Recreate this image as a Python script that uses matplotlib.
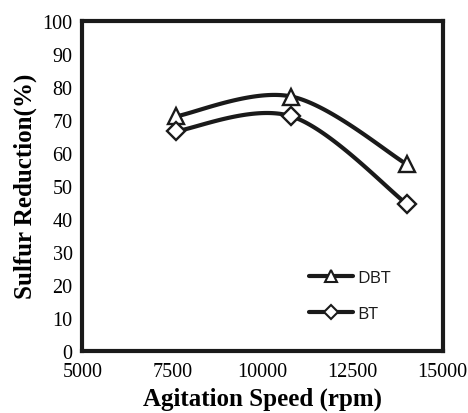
import numpy as np
import matplotlib.pyplot as plt

speed = [7600, 10800, 14000]
dbt = [71.0, 77.0, 56.5]
bt = [66.5, 71.0, 44.5]

x_ticks = [5000, 7500, 10000, 12500, 15000]
y_ticks = list(range(0, 101, 10))


def smooth(xs, ys, w=361.0, h=330.0, n=60):
    """Excel-like smoothed line (Catmull-Rom bezier) computed in screen-ish units."""
    px = (np.asarray(xs, float) - 5000) / 10000 * w
    py = np.asarray(ys, float) / 100 * h
    pts = np.column_stack([px, py])
    out = []
    for i in range(len(pts) - 1):
        p0 = pts[i - 1] if i > 0 else pts[i]
        p1, p2 = pts[i], pts[i + 1]
        p3 = pts[i + 2] if i + 2 < len(pts) else pts[i + 1]
        c1 = p1 + (p2 - p0) / 6
        c2 = p2 - (p3 - p1) / 6
        t = np.linspace(0, 1, n)[:, None]
        seg = (1 - t) ** 3 * p1 + 3 * (1 - t) ** 2 * t * c1 + 3 * (1 - t) * t ** 2 * c2 + t ** 3 * p2
        out.append(seg if i == 0 else seg[1:])
    out = np.vstack(out)
    return out[:, 0] / w * 10000 + 5000, out[:, 1] / h * 100


fig = plt.figure(figsize=(4.68, 4.14), dpi=100)
ax = fig.add_axes([0.176, 0.150, 0.770, 0.798])

for ys, mk, ms, lab in [(dbt, '^', 12, 'DBT'), (bt, 'D', 9, 'BT')]:
    sx, sy = smooth(speed, ys)
    ax.plot(sx, sy, color='#1a1a1a', lw=3.0, solid_capstyle='round', zorder=2)
    ax.plot(speed, ys, linestyle='none', marker=mk, ms=ms, mfc='white',
            mec='#1a1a1a', mew=1.7, zorder=3)
    ax.plot([], [], color='#1a1a1a', lw=3.0, marker=mk, ms=ms * 0.75, mfc='white',
            mec='#1a1a1a', mew=1.5, label=lab, solid_capstyle='round')

ax.set_xlim(5000, 15000)
ax.set_ylim(0, 100)
ax.set_xticks(x_ticks)
ax.set_yticks(y_ticks)
ax.tick_params(axis='y', length=0, pad=7)
ax.tick_params(axis='x', length=0, pad=8)
for lbl in ax.get_xticklabels() + ax.get_yticklabels():
    lbl.set_fontfamily('Liberation Serif')
    lbl.set_fontsize(14.5)
for s in ax.spines.values():
    s.set_linewidth(3.0)
    s.set_color('#1a1a1a')

ax.set_xlabel('Agitation Speed (rpm)', fontfamily='Liberation Serif',
              fontweight='bold', fontsize=18, labelpad=4)
ax.set_ylabel('Sulfur Reduction(%)', fontfamily='Liberation Serif',
              fontweight='bold', fontsize=18, labelpad=4)

leg = ax.legend(loc='upper left', bbox_to_anchor=(0.63, 0.245), frameon=False,
                handlelength=2.5, handletextpad=0.25, labelspacing=1.12,
                borderpad=0, borderaxespad=0,
                prop={'family': 'Open Sans', 'size': 12.5})
for t in leg.get_texts():
    t.set_color('#1a1a1a')

fig.savefig('out.png', dpi=100)
